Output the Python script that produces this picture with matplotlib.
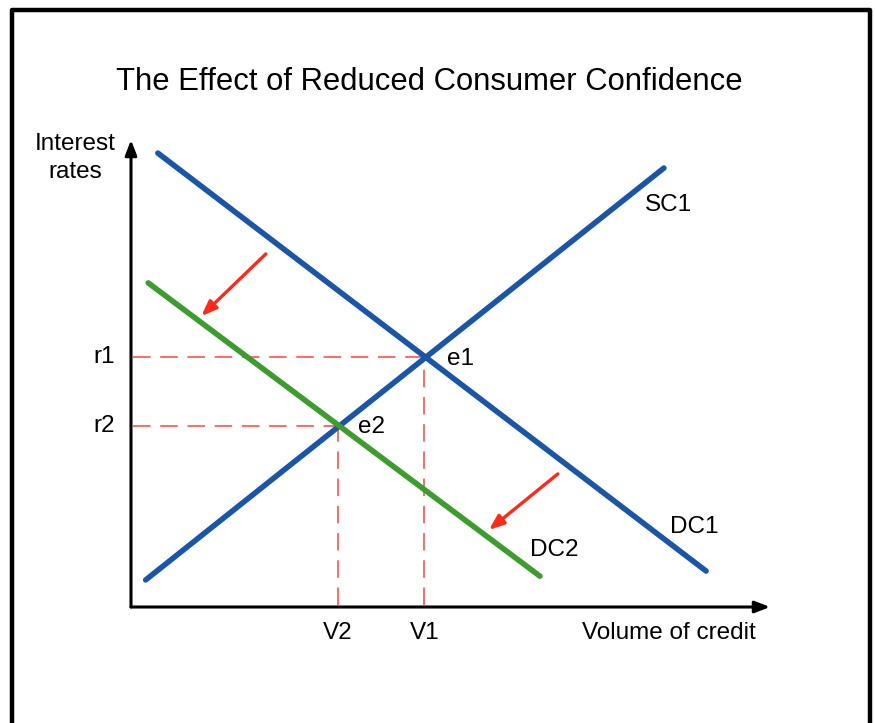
import matplotlib.pyplot as plt
from matplotlib.lines import Line2D

plt.rcParams['font.family'] = ['Liberation Sans', 'DejaVu Sans']

# curve end points (data units, origin at axis corner)
dc1_x = [0.42, 9.0]
dc1_y = [9.72, 0.77]
sc1_x = [0.23, 8.34]
sc1_y = [0.58, 9.40]
dc2_x = [0.27, 6.40]
dc2_y = [6.94, 0.66]

# equilibrium points
eq_names = ['e1', 'e2']
eq_x = [4.59, 3.24]
eq_y = [5.35, 3.88]
rate_labels = ['r1', 'r2']
vol_labels = ['V1', 'V2']

# shift arrows (start -> end)
shift_start = [(2.11, 7.56), (6.68, 2.85)]
shift_end = [(1.10, 6.23), (5.60, 1.65)]

blue = '#1a55a8'
green = '#3c9c2e'
red = '#ff2a1a'
dash_red = '#ff6a66'

fig = plt.figure(figsize=(8.75, 7.23), dpi=100)
W, H = 875, 723
ax = fig.add_axes([131 / W, 1 - 607 / H, 639 / W, 467 / H])
ax.set_xlim(0, 10)
ax.set_ylim(0, 10)
ax.axis('off')

# outer frame (open at the bottom)
fig.add_artist(Line2D([12 / W, 12 / W, 870 / W, 870 / W],
                      [0, 1 - 10 / H, 1 - 10 / H, 0],
                      transform=fig.transFigure, color='black', lw=3.2))

# axes with arrows
ax.annotate('', xy=(10, 0), xytext=(0, 0), annotation_clip=False,
            arrowprops=dict(arrowstyle='-|>,head_length=0.9,head_width=0.35',
                            color='black', lw=2.2, shrinkA=0, shrinkB=0))
ax.annotate('', xy=(0, 10), xytext=(0, 0), annotation_clip=False,
            arrowprops=dict(arrowstyle='-|>,head_length=0.9,head_width=0.35',
                            color='black', lw=2.2, shrinkA=0, shrinkB=0))

# dashed guides
for x, y in zip(eq_x, eq_y):
    ax.plot([0.03, x], [y, y], color=dash_red, lw=1.4, dashes=(9, 5))
    ax.plot([x, x], [0.04, y], color=dash_red, lw=1.4, dashes=(9, 5))

ax.plot(dc1_x, dc1_y, color=blue, lw=4, solid_capstyle='round')
ax.plot(sc1_x, sc1_y, color=blue, lw=4, solid_capstyle='round')
ax.plot(dc2_x, dc2_y, color=green, lw=4, solid_capstyle='round')

for s, e in zip(shift_start, shift_end):
    ax.annotate('', xy=e, xytext=s,
                arrowprops=dict(arrowstyle='-|>,head_length=0.9,head_width=0.35',
                                color=red, lw=2.4, shrinkA=0, shrinkB=0))

fs = 17.5
ax.text(8.04, 8.61, 'SC1', fontsize=fs, ha='left', va='center')
ax.text(8.44, 1.71, 'DC1', fontsize=fs, ha='left', va='center')
ax.text(6.24, 1.22, 'DC2', fontsize=fs, ha='left', va='center')
ax.text(4.95, 5.31, eq_names[0], fontsize=fs, ha='left', va='center')
ax.text(3.55, 3.85, eq_names[1], fontsize=fs, ha='left', va='center')
for lab, y in zip(rate_labels, eq_y):
    ax.text(-0.26, y, lab, fontsize=fs, ha='right', va='center')
for lab, x in zip(vol_labels, eq_x):
    ax.text(x, -0.56, lab, fontsize=fs, ha='center', va='center')
ax.text(7.06, -0.56, 'Volume of credit', fontsize=fs, ha='left', va='center')
ax.text(-0.88, 9.62, 'Interest\nrates', fontsize=fs, ha='center', va='center',
        linespacing=1.35)

fig.text(429 / W, 1 - 82 / H, 'The Effect of Reduced Consumer Confidence',
         fontsize=22.3, ha='center', va='center')

fig.savefig('out.png', dpi=100)
